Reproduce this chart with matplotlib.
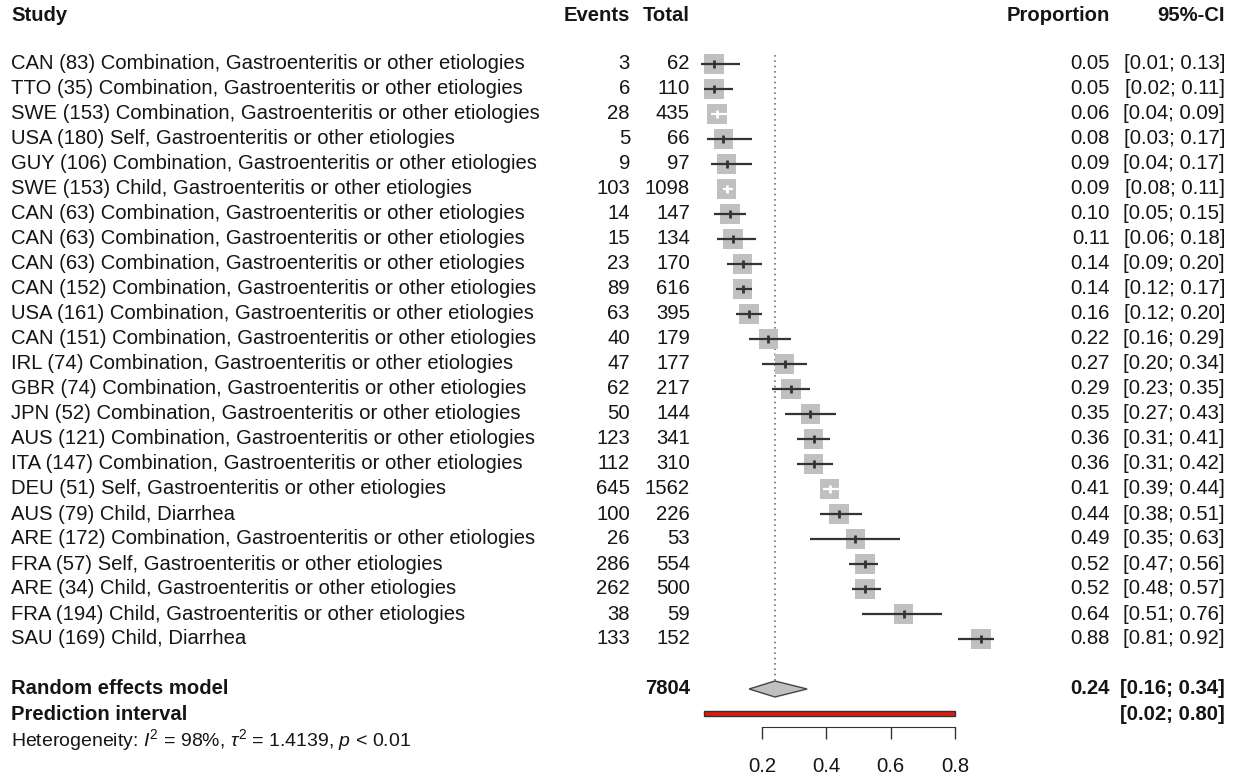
import matplotlib.pyplot as plt
from matplotlib.patches import Rectangle, Polygon

plt.rcParams['font.family'] = ['Liberation Sans', 'DejaVu Sans']
plt.rcParams['mathtext.fontset'] = 'custom'
plt.rcParams['mathtext.rm'] = 'Liberation Sans'
plt.rcParams['mathtext.it'] = 'Liberation Sans:italic'

studies = [
    "CAN (83) Combination, Gastroenteritis or other etiologies",
    "TTO (35) Combination, Gastroenteritis or other etiologies",
    "SWE (153) Combination, Gastroenteritis or other etiologies",
    "USA (180) Self, Gastroenteritis or other etiologies",
    "GUY (106) Combination, Gastroenteritis or other etiologies",
    "SWE (153) Child, Gastroenteritis or other etiologies",
    "CAN (63) Combination, Gastroenteritis or other etiologies",
    "CAN (63) Combination, Gastroenteritis or other etiologies",
    "CAN (63) Combination, Gastroenteritis or other etiologies",
    "CAN (152) Combination, Gastroenteritis or other etiologies",
    "USA (161) Combination, Gastroenteritis or other etiologies",
    "CAN (151) Combination, Gastroenteritis or other etiologies",
    "IRL (74) Combination, Gastroenteritis or other etiologies",
    "GBR (74) Combination, Gastroenteritis or other etiologies",
    "JPN (52) Combination, Gastroenteritis or other etiologies",
    "AUS (121) Combination, Gastroenteritis or other etiologies",
    "ITA (147) Combination, Gastroenteritis or other etiologies",
    "DEU (51) Self, Gastroenteritis or other etiologies",
    "AUS (79) Child, Diarrhea",
    "ARE (172) Combination, Gastroenteritis or other etiologies",
    "FRA (57) Self, Gastroenteritis or other etiologies",
    "ARE (34) Child, Gastroenteritis or other etiologies",
    "FRA (194) Child, Gastroenteritis or other etiologies",
    "SAU (169) Child, Diarrhea",
]
events = [3, 6, 28, 5, 9, 103, 14, 15, 23, 89, 63, 40, 47, 62, 50, 123, 112,
          645, 100, 26, 286, 262, 38, 133]
totals = [62, 110, 435, 66, 97, 1098, 147, 134, 170, 616, 395, 179, 177, 217,
          144, 341, 310, 1562, 226, 53, 554, 500, 59, 152]
prop = [0.05, 0.05, 0.06, 0.08, 0.09, 0.09, 0.10, 0.11, 0.14, 0.14, 0.16, 0.22,
        0.27, 0.29, 0.35, 0.36, 0.36, 0.41, 0.44, 0.49, 0.52, 0.52, 0.64, 0.88]
ci_lo = [0.01, 0.02, 0.04, 0.03, 0.04, 0.08, 0.05, 0.06, 0.09, 0.12, 0.12, 0.16,
         0.20, 0.23, 0.27, 0.31, 0.31, 0.39, 0.38, 0.35, 0.47, 0.48, 0.51, 0.81]
ci_hi = [0.13, 0.11, 0.09, 0.17, 0.17, 0.11, 0.15, 0.18, 0.20, 0.17, 0.20, 0.29,
         0.34, 0.35, 0.43, 0.41, 0.42, 0.44, 0.51, 0.63, 0.56, 0.57, 0.76, 0.92]
# studies whose CI lies inside the square (drawn in white)
ci_inside = [2, 5, 17]

re_total = 7804
re_est, re_lo, re_hi = 0.24, 0.16, 0.34
pi_lo, pi_hi = 0.02, 0.80
xticks = [0.2, 0.4, 0.6, 0.8]

W, H = 1239, 778
fig = plt.figure(figsize=(W / 100, H / 100), dpi=100)

# pixel mapping: x_px = X0 + v * SX ; y_px = Y0 + row * ROW
X0, SX = 697.7, 321.7
Y0, ROW = 64, 25
ylim = ((H - Y0) / ROW, -Y0 / ROW)

ax = fig.add_axes([0, 0, 1, 1])
ax.set_xlim(-X0 / SX, (W - X0) / SX)
ax.set_ylim(*ylim)
ax.patch.set_visible(False)
for s in ['top', 'left', 'right']:
    ax.spines[s].set_visible(False)
ax.set_yticks([])

tx = fig.add_axes([0, 0, 1, 1])
tx.set_xlim(0, W)
tx.set_ylim(*ylim)
tx.axis('off')
tx.patch.set_visible(False)

txt = '#151515'
fs = 14.6
n = len(studies)
rows = list(range(n))
sq_w = 19.5 / SX
sq_h = 19.5 / ROW

# reference line at pooled estimate
ax.plot([re_est, re_est], [-0.36, 25 - 0.32], color='#777777', lw=1.2,
        linestyle=(0, (1, 2.2)), zorder=1)

for i in rows:
    ax.add_patch(Rectangle((prop[i] - sq_w / 2, i - sq_h / 2), sq_w, sq_h,
                           facecolor='#c0c0c0', edgecolor='none', zorder=2))
    col = 'white' if i in ci_inside else '#333333'
    ax.plot([ci_lo[i], ci_hi[i]], [i, i], color=col, lw=1.6, zorder=3,
            solid_capstyle='butt')
    ax.plot([prop[i], prop[i]], [i - 0.17, i + 0.17], color=col, lw=2.0,
            zorder=3, solid_capstyle='butt')

# diamond for random effects model
dh = 8 / ROW
ax.add_patch(Polygon([(re_lo, 25), (re_est, 25 - dh), (re_hi, 25),
                      (re_est, 25 + dh)], closed=True, facecolor='#c0c0c0',
                     edgecolor='#444444', lw=1.0, zorder=3))
# prediction interval
ax.add_patch(Rectangle((pi_lo, 26 - 0.1), pi_hi - pi_lo, 0.2,
                       facecolor='#e0190f', edgecolor='#333333', lw=1.0,
                       zorder=3))

# x axis
ax.spines['bottom'].set_position(('data', (727 - Y0) / ROW))
ax.spines['bottom'].set_bounds(xticks[0], xticks[-1])
ax.spines['bottom'].set_color('#333333')
ax.set_xticks(xticks)
ax.set_xticklabels([f'{t:.1f}' for t in xticks])
ax.tick_params(axis='x', length=8.6, width=1.0, color='#333333',
               labelsize=fs, labelcolor=txt, pad=13)

# header
hy = (16 - Y0) / ROW
tx.text(11, hy, 'Study', fontsize=fs, weight='bold', color=txt, va='center')
tx.text(630, hy, 'Events', fontsize=fs, weight='bold', color=txt,
        va='center', ha='right')
tx.text(690, hy, 'Total', fontsize=fs, weight='bold', color=txt,
        va='center', ha='right')
tx.text(1110, hy, 'Proportion', fontsize=fs, weight='bold', color=txt,
        va='center', ha='right')
tx.text(1225, hy, '95%-CI', fontsize=fs, weight='bold', color=txt,
        va='center', ha='right')

for i in rows:
    tx.text(11, i, studies[i], fontsize=fs, color=txt, va='center')
    tx.text(630, i, str(events[i]), fontsize=fs, color=txt, va='center',
            ha='right')
    tx.text(690, i, str(totals[i]), fontsize=fs, color=txt, va='center',
            ha='right')
    tx.text(1110, i, f'{prop[i]:.2f}', fontsize=fs, color=txt, va='center',
            ha='right')
    tx.text(1225, i, f'[{ci_lo[i]:.2f}; {ci_hi[i]:.2f}]', fontsize=fs,
            color=txt, va='center', ha='right')

tx.text(11, 25, 'Random effects model', fontsize=fs, weight='bold',
        color=txt, va='center')
tx.text(690, 25, str(re_total), fontsize=fs, weight='bold', color=txt,
        va='center', ha='right')
tx.text(1110, 25, f'{re_est:.2f}', fontsize=fs, weight='bold', color=txt,
        va='center', ha='right')
tx.text(1225, 25, f'[{re_lo:.2f}; {re_hi:.2f}]', fontsize=fs, weight='bold',
        color=txt, va='center', ha='right')
tx.text(11, 26, 'Prediction interval', fontsize=fs, weight='bold',
        color=txt, va='center')
tx.text(1225, 26, f'[{pi_lo:.2f}; {pi_hi:.2f}]', fontsize=fs, weight='bold',
        color=txt, va='center', ha='right')
tx.text(11, (740 - Y0) / ROW,
        r'Heterogeneity: $\mathit{I}^2$ = 98%, $\tau^2$ = 1.4139, $\mathit{p}$ < 0.01',
        fontsize=14.0, color=txt, va='center')

fig.savefig('out.png', dpi=100)
